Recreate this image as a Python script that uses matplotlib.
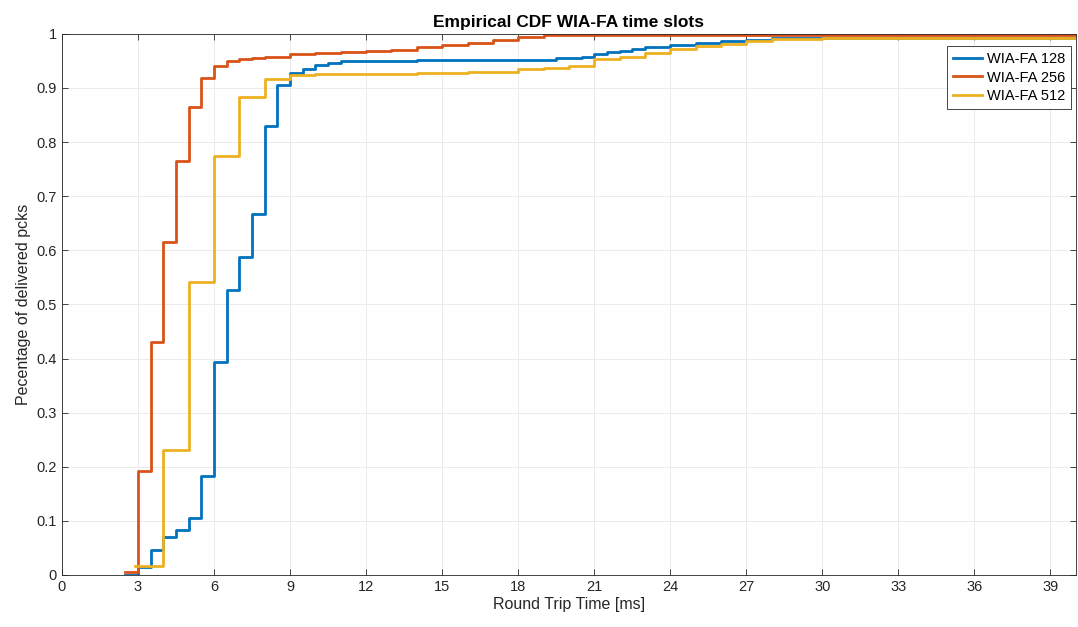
#!/usr/bin/env python3
import matplotlib
matplotlib.use("Agg")
import matplotlib.pyplot as plt

# Step points (x = RTT in ms, y = CDF value after the step)
x_128 = [2.5, 3, 3.5, 4, 4.5, 5, 5.5, 6, 6.5, 7, 7.5, 8, 8.5, 9, 9.5, 10, 10.5, 11,
         14, 19.5, 20.5, 21, 21.5, 22, 22.5, 23, 24, 25, 26, 27, 28, 40]
y_128 = [0.0, 0.015, 0.046, 0.07, 0.083, 0.105, 0.182, 0.393, 0.527, 0.588, 0.668,
         0.829, 0.906, 0.927, 0.935, 0.943, 0.947, 0.949, 0.952, 0.955, 0.958, 0.963,
         0.966, 0.969, 0.972, 0.975, 0.979, 0.983, 0.986, 0.989, 0.992, 0.992]

x_256 = [2.5, 3, 3.5, 4, 4.5, 5, 5.5, 6, 6.5, 7, 7.5, 8, 9, 10, 11, 12, 13, 14, 15,
         16, 17, 18, 19, 40]
y_256 = [0.005, 0.193, 0.431, 0.615, 0.765, 0.864, 0.919, 0.94, 0.949, 0.953, 0.956,
         0.958, 0.962, 0.964, 0.966, 0.968, 0.971, 0.975, 0.979, 0.984, 0.989, 0.994,
         0.998, 0.998]

x_512 = [2.9, 4, 5, 6, 7, 8, 9, 10, 12, 14, 16, 18, 19, 20, 21, 22, 23, 24, 25, 26,
         27, 28, 30, 40]
y_512 = [0.016, 0.231, 0.541, 0.775, 0.884, 0.916, 0.924, 0.925, 0.926, 0.927, 0.929,
         0.935, 0.937, 0.94, 0.953, 0.958, 0.965, 0.972, 0.977, 0.981, 0.986, 0.99,
         0.992, 0.992]

series = [("WIA-FA 128", x_128, y_128, "#0072BD"),
          ("WIA-FA 256", x_256, y_256, "#D95319"),
          ("WIA-FA 512", x_512, y_512, "#EDB120")]

x_ticks = list(range(0, 40, 3))
y_ticks = [i / 10 for i in range(11)]
y_labels = ["0"] + ["%.1f" % v for v in y_ticks[1:-1]] + ["1"]

plt.rcParams["font.family"] = ["Liberation Sans", "DejaVu Sans"]

fig = plt.figure(figsize=(10.78, 6.27), dpi=100)
ax = fig.add_axes([0.0575, 0.083, 0.9405, 0.863])

for label, xs, ys, color in series:
    ax.plot(xs, ys, drawstyle="steps-post", color=color, lw=2, label=label)

ax.set_xlim(0, 40)
ax.set_ylim(0, 1)
ax.set_xticks(x_ticks)
ax.set_yticks(y_ticks)
ax.set_yticklabels(y_labels)
ax.tick_params(labelsize=10.5, colors="#262626", direction="in", length=4, width=0.6,
               top=True, right=True)
ax.grid(True, color="#ebebeb", lw=0.7)
ax.set_axisbelow(True)
for s in ax.spines.values():
    s.set_color("#262626")
    s.set_linewidth(0.6)

ax.set_title("Empirical CDF WIA-FA time slots", fontsize=12.5, fontweight="bold", pad=5)
ax.set_xlabel("Round Trip Time [ms]", fontsize=11.5, color="#262626", labelpad=2)
ax.set_ylabel("Pecentage of delivered pcks", fontsize=11.5, color="#262626", labelpad=4)

leg = ax.legend(loc="upper right", bbox_to_anchor=(0.995, 0.977), fontsize=10.5,
                fancybox=False, framealpha=1, edgecolor="#262626", handlelength=2.0,
                handletextpad=0.3, borderpad=0.4, labelspacing=0.3, borderaxespad=0)
leg.get_frame().set_linewidth(0.6)

fig.savefig("out.png", dpi=100)
